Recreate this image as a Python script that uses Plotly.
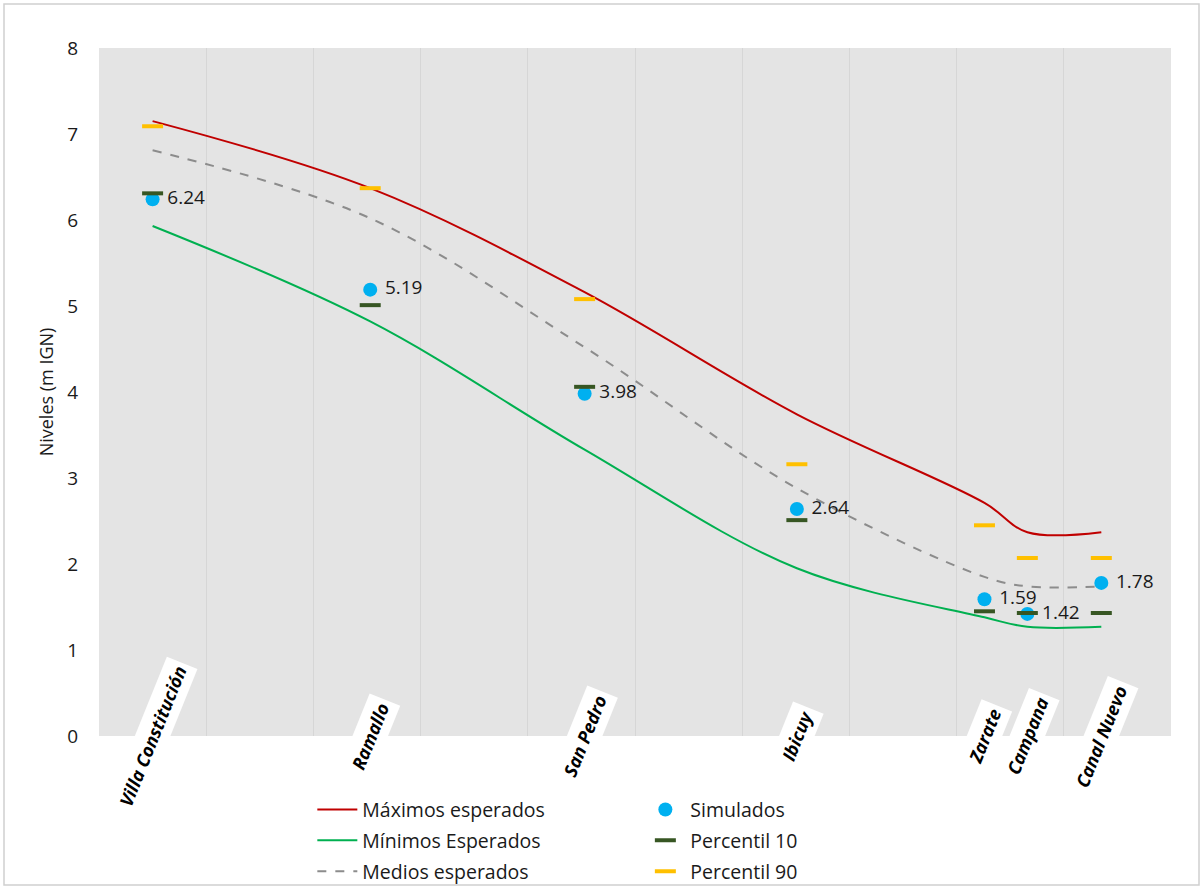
import plotly.graph_objects as go

# ---- data ----
stations = ["Villa Constitución", "Ramallo", "San Pedro", "Ibicuy", "Zarate", "Campana", "Canal Nuevo"]
station_x = [0.50, 2.53, 4.53, 6.51, 8.26, 8.66, 9.35]
maximos = [7.15, 6.37, 5.16, 3.74, 2.71, 2.37, 2.37]
minimos = [5.93, 4.82, 3.33, 1.95, 1.38, 1.27, 1.27]
medios = [6.81, 6.02, 4.52, 2.88, 1.85, 1.74, 1.74]
simulados = [6.24, 5.19, 3.98, 2.64, 1.59, 1.42, 1.78]
percentil10 = [6.31, 5.01, 4.06, 2.51, 1.45, 1.43, 1.43]
percentil90 = [7.09, 6.37, 5.08, 3.16, 2.45, 2.07, 2.07]
y_ticks = [0, 1, 2, 3, 4, 5, 6, 7, 8]

FONT = "Open Sans"
TXT = "#1a1a1a"

fig = go.Figure()
fig.add_trace(go.Scatter(x=station_x, y=maximos, mode="lines", name="Máximos esperados",
                         line=dict(color="#C00000", width=2, shape="spline"),
                         legend="legend", legendgroup="a"))
fig.add_trace(go.Scatter(x=station_x, y=minimos, mode="lines", name="Mínimos Esperados",
                         line=dict(color="#00B050", width=2, shape="spline"),
                         legend="legend", legendgroup="b"))
fig.add_trace(go.Scatter(x=station_x, y=medios, mode="lines", name="Medios esperados",
                         line=dict(color="#8C8C8C", width=2, shape="spline", dash="dash"),
                         legend="legend", legendgroup="c"))
fig.add_trace(go.Scatter(x=station_x, y=simulados, mode="markers+text", name="Simulados",
                         marker=dict(color="#00B0F0", size=14),
                         text=[f"\u00a0{v:.2f}" for v in simulados], textposition="middle right",
                         textfont=dict(size=19, color=TXT, family=FONT),
                         legend="legend2", legendgroup="d"))
fig.add_trace(go.Scatter(x=station_x, y=percentil10, mode="markers", name="Percentil 10",
                         marker=dict(symbol="line-ew", size=15, line=dict(color="#375623", width=4)),
                         legend="legend2", legendgroup="e"))
fig.add_trace(go.Scatter(x=station_x, y=percentil90, mode="markers", name="Percentil 90",
                         marker=dict(symbol="line-ew", size=15, line=dict(color="#FFC000", width=4)),
                         legend="legend2", legendgroup="f"))

for name, xv in zip(stations, station_x):
    fig.add_annotation(x=xv, y=0, xref="x", yref="y", text=f"<b><i>{name}</i></b>",
                       showarrow=False, textangle=-68, xanchor="center", yanchor="middle",
                       bgcolor="white", borderpad=4,
                       font=dict(size=18, color="black", family=FONT))

fig.add_shape(type="rect", xref="paper", yref="paper",
              x0=(4 - 99) / 1072, x1=(1199 - 99) / 1072,
              y0=(736 - 885) / 688, y1=(736 - 4) / 688,
              line=dict(color="#D0D0D0", width=1.5), fillcolor="rgba(0,0,0,0)", layer="below")

fig.update_layout(
    width=1204, height=888,
    margin=dict(l=99, r=33, t=48, b=152, autoexpand=False),
    paper_bgcolor="white", plot_bgcolor="#E4E4E4",
    font=dict(family=FONT, size=18, color=TXT),
    showlegend=True,
    legend=dict(x=0.199, y=0.110, xanchor="left", yanchor="top", yref="container",
                orientation="v",
                font=dict(size=19.5, family=FONT, color=TXT), bgcolor="rgba(0,0,0,0)",
                itemwidth=40, tracegroupgap=2.5),
    legend2=dict(x=0.505, y=0.110, xanchor="left", yanchor="top", yref="container",
                 orientation="v",
                 font=dict(size=19.5, family=FONT, color=TXT), bgcolor="rgba(0,0,0,0)",
                 itemwidth=40, tracegroupgap=2.5),
    xaxis=dict(range=[0, 10], dtick=1, tick0=0, showticklabels=False, showgrid=True,
               gridcolor="#D6D6D6", gridwidth=1, zeroline=False, showline=False, fixedrange=True),
    yaxis=dict(range=[0, 8], tickvals=y_ticks, showgrid=False, zeroline=False, showline=False,
               ticks="outside", ticklen=16, tickcolor="rgba(0,0,0,0)",
               tickfont=dict(size=19, family=FONT, color=TXT),
               title=dict(text="Niveles (m IGN)", font=dict(size=18, family=FONT, color=TXT),
                          standoff=9)),
)

fig.write_html("out.html", config={"displayModeBar": False},
               post_script="document.body.style.margin='0px';")
